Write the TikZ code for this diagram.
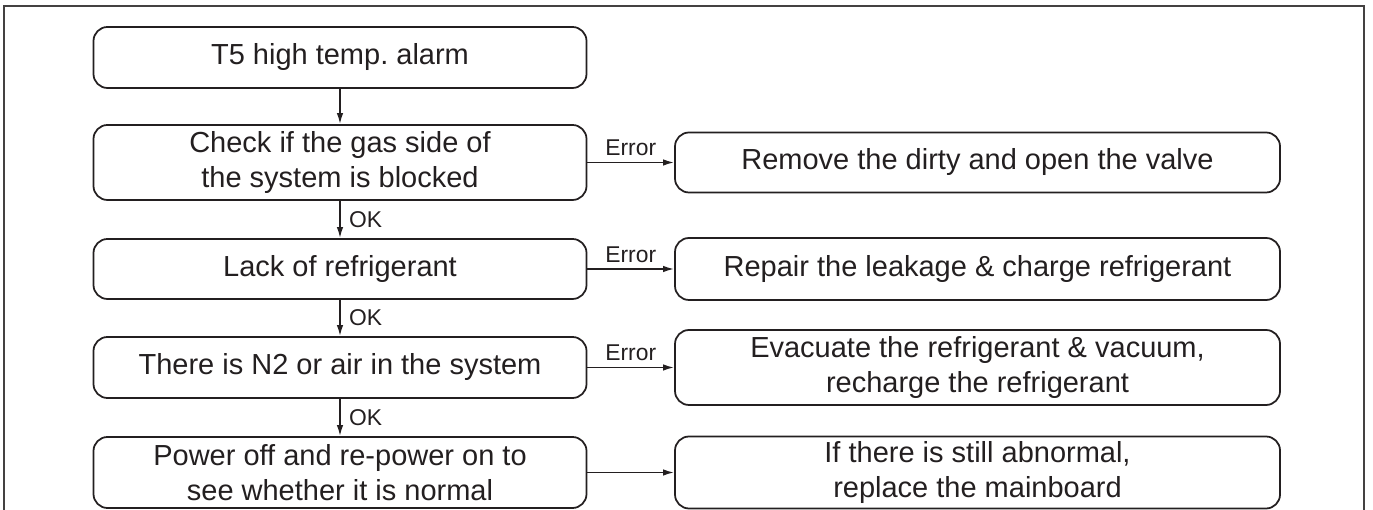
\documentclass[tikz,border=0pt]{standalone}
\usepackage{fontspec}
\setmainfont{Liberation Sans}
\usepackage{xcolor}
\usepackage{tikz}
\usetikzlibrary{arrows.meta, positioning}
\definecolor{ink}{HTML}{231F20}
\frenchspacing
\tikzset{
  stepbox/.style={draw=ink, text=ink, rounded corners=2.8mm, line width=1pt, align=center, inner sep=0pt, font=\fontsize{16.5}{20}\selectfont},
  leftbox/.style={stepbox, minimum width=98.6mm},
  rightbox/.style={stepbox, minimum width=121mm},
  arrow/.style={-{Latex[length=2.2mm, width=1.3mm]}, line width=0.9pt, draw=ink},
  tag/.style={text=ink, font=\fontsize{13}{15}\selectfont},
  frame/.style={line width=1.1pt, draw=ink!85}
}

\begin{document}
\begin{tikzpicture}
    \useasboundingbox (0,0) rectangle (27.46,10.2);
    \clip (0,0) rectangle (27.46,10.2);
    \draw[frame] (0.08,-0.5) -- (0.08,10.08) -- (27.28,10.08) -- (27.28,-0.5);
    % checks on the left
    \node[leftbox, minimum height=12.2mm] (alarm) at (6.8,9.05) {T5 high temp. alarm};
    \node[leftbox, minimum height=15mm] (gas) at (6.8,6.95) {Check if the gas side of\\the system is blocked};
    \node[leftbox, minimum height=12mm] (lack) at (6.8,4.82) {Lack of refrigerant};
    \node[leftbox, minimum height=12.2mm] (air) at (6.8,2.85) {There is N2 or air in the system};
    \node[leftbox, minimum height=14.2mm] (repower) at (6.8,0.75) {Power off and re-power on to\\see whether it is normal};
    % remedies on the right
    \node[rightbox, minimum height=12mm] (valve) at (19.55,6.95) {Remove the dirty and open the valve};
    \node[rightbox, minimum height=12.4mm] (leak) at (19.55,4.82) {Repair the leakage \& charge refrigerant};
    \node[rightbox, minimum height=15mm] (vacuum) at (19.55,2.85) {Evacuate the refrigerant \& vacuum,\\recharge the refrigerant};
    \node[rightbox, minimum height=14.4mm] (board) at (19.55,0.75) {If there is still abnormal,\\replace the mainboard};
    % connectors
    \draw[arrow] (alarm) -- (gas);
    \draw[arrow] (gas) -- node[tag, right=0.5mm] {OK} (lack);
    \draw[arrow] (lack) -- node[tag, right=0.5mm] {OK} (air);
    \draw[arrow] (air) -- node[tag, right=0.5mm] {OK} (repower);
    \draw[arrow] (gas) -- node[tag, above] {Error} (valve);
    \draw[arrow] (lack) -- node[tag, above] {Error} (leak);
    \draw[arrow] (air) -- node[tag, above] {Error} (vacuum);
    \draw[arrow] (repower) -- (board);
\end{tikzpicture}
\end{document}
